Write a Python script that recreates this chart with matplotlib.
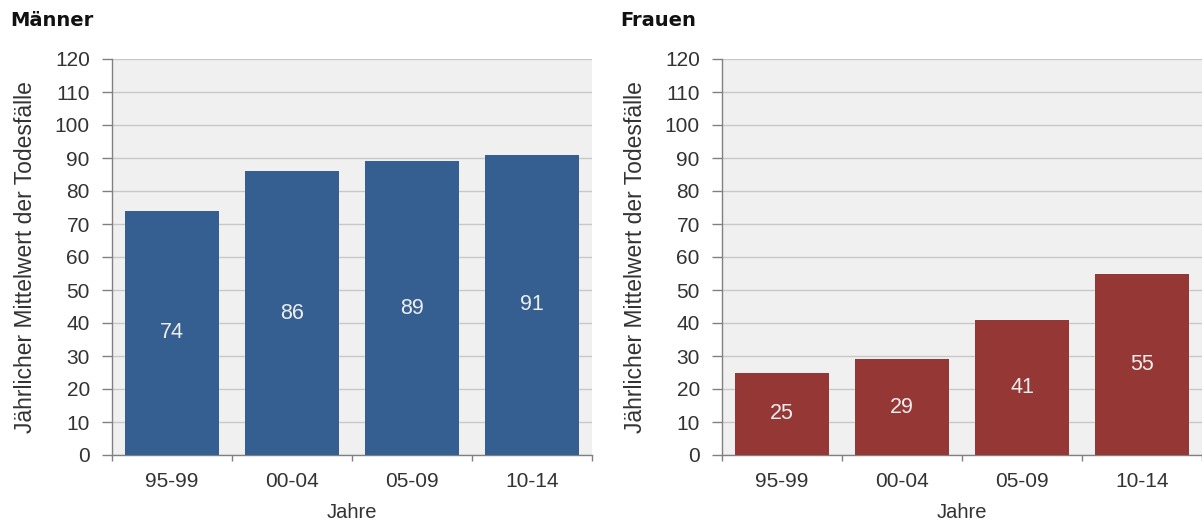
import matplotlib
matplotlib.use("Agg")
import matplotlib.pyplot as plt
import numpy as np

categories = ["95-99", "00-04", "05-09", "10-14"]
maenner = [74, 86, 89, 91]
frauen = [25, 29, 41, 55]
yticks = list(range(0, 121, 10))

plt.rcParams["font.family"] = ["Liberation Sans", "DejaVu Sans"]

fig = plt.figure(figsize=(12.02, 5.27), dpi=100)

panels = [
    ("Männer", maenner, "#355f91", 112),
    ("Frauen", frauen, "#953735", 722),
]

W, H = 1202, 527
text_col = "#333333"
for title, vals, color, x0 in panels:
    ax = fig.add_axes([x0 / W, 72 / H, 480 / W, 396 / H])
    ax.set_facecolor("#f0f0f0")
    x = np.arange(len(categories))
    bars = ax.bar(x, vals, width=0.78, color=color, zorder=3)
    for b, v in zip(bars, vals):
        ax.text(b.get_x() + b.get_width() / 2, v / 2, str(v),
                ha="center", va="center", color="#eeeeee", fontsize=15.5, zorder=4)
    ax.set_xlim(-0.5, len(categories) - 0.5)
    ax.set_ylim(0, 120)
    ax.set_yticks(yticks)
    ax.yaxis.grid(True, color="#c8c8c8", linewidth=1, zorder=1)
    ax.set_xticks(x)
    ax.set_xticklabels(categories)
    ax.set_xticks(np.arange(-0.5, len(categories)), minor=True)
    ax.tick_params(axis="x", which="major", length=0, pad=12, labelsize=15, labelcolor=text_col)
    ax.tick_params(axis="x", which="minor", length=4.5, color="#808080", width=1)
    ax.tick_params(axis="y", length=7, color="#808080", width=1, pad=9, labelsize=15, labelcolor=text_col)
    for s in ["top", "right"]:
        ax.spines[s].set_visible(False)
    for s in ["left", "bottom"]:
        ax.spines[s].set_color("#808080")
        ax.spines[s].set_linewidth(1)
    ax.set_xlabel("Jahre", fontsize=14.5, color=text_col, labelpad=9)
    ax.set_ylabel("Jährlicher Mittelwert der Todesfälle", fontsize=16.5, color=text_col, labelpad=13)
    fig.text((x0 - 102) / W, 1 - 20 / H, title, fontsize=14, fontweight="bold",
             family=["DejaVu Sans"], va="center", ha="left", color="#111111")

fig.savefig("out.png", dpi=100, facecolor="white")
